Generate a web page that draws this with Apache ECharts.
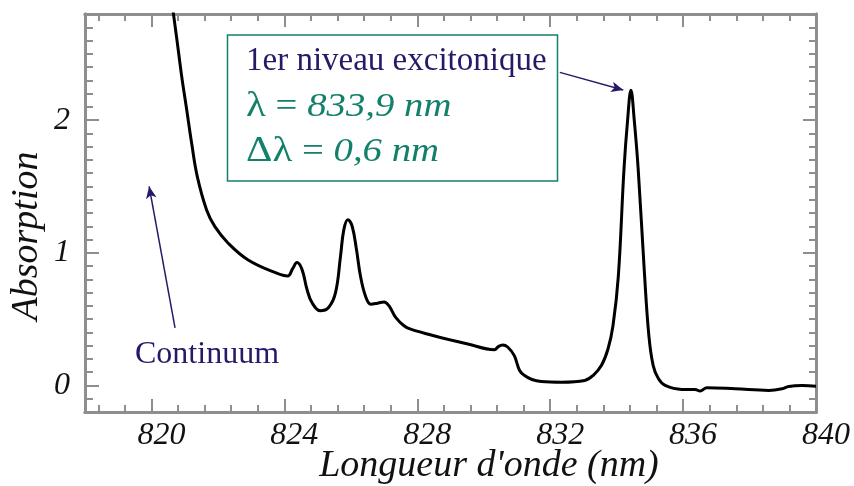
<!DOCTYPE html>
<html>
<head>
<meta charset="utf-8">
<script src="https://cdn.jsdelivr.net/npm/echarts@6/dist/echarts.min.js"></script>
<style>
  html, body { margin: 0; padding: 0; background: #fff; }
  #chart { width: 854px; height: 486px; }
</style>
</head>
<body>
<div id="chart"></div>
<script>
// spectrum
const wavelength = [
  820.6, 820.66, 820.78, 820.91, 821.06, 821.21, 821.38, 821.66, 821.91, 822.31,
  822.91, 823.77, 824.1, 824.25, 824.38, 824.53, 824.68, 824.83, 825.08, 825.33,
  825.54, 825.69, 825.79, 825.91, 826.04, 826.17, 826.29, 826.44, 826.6, 826.8,
  827.0, 827.15, 827.35, 827.6, 827.8, 828.5, 829.52, 830.32, 830.45, 830.57,
  830.72, 830.92, 831.08, 831.23, 831.45, 831.73, 832.34, 833.04, 833.29, 833.54,
  833.74, 833.89, 834.05, 834.22, 834.33, 834.43, 834.53, 834.65, 834.83, 834.97,
  835.1, 835.26, 835.46, 835.96, 836.36, 836.51, 836.72, 837.57, 838.58, 838.98,
  839.18, 839.59, 840.0
];
const absorption = [
  2.92, 2.805, 2.58, 2.33, 2.08, 1.825, 1.574, 1.323, 1.197, 1.072,
  0.946, 0.846, 0.825, 0.88, 0.926, 0.875, 0.725, 0.625, 0.563, 0.588,
  0.70, 0.975, 1.175, 1.25, 1.2, 1.025, 0.825, 0.675, 0.613, 0.62,
  0.63, 0.6, 0.513, 0.45, 0.425, 0.375, 0.313, 0.27, 0.295, 0.305,
  0.29, 0.225, 0.113, 0.075, 0.045, 0.03, 0.025, 0.038, 0.075, 0.15,
  0.275, 0.45, 0.82, 1.625, 2.0, 2.226, 2.0, 1.625, 0.875, 0.375,
  0.15, 0.05, 0.0, -0.03, -0.03, -0.042, -0.017, -0.025, -0.037, -0.025,
  -0.007, 0.0, -0.005
];

const xMajor = [820, 824, 828, 832, 836, 840];
const yMajor = [0, 1, 2];

// arrows: [from, to] in data units
const peakArrow = [[832.29, 2.36], [834.2, 2.227]];
const continuumArrow = [[820.71, 0.434], [819.93, 1.5]];

const xMinor = [];
for (let k = -2; k < 25; k++) {
  if (k % 5 !== 0) xMinor.push(+(820 + 0.8 * k).toFixed(2));
}
const yMinor = [];
for (let k = -1; k < 28; k++) {
  if (k % 10 !== 0) yMinor.push(+(k / 10).toFixed(2));
}

const gray = "#8e8e8e";
const navy = "#261a68";
const teal = "#12806a";
const serif = "Liberation Serif";

function xAx(pos, ticks, len, labels) {
  return {
    type: "value",
    position: pos,
    min: 818,
    max: 840,
    axisLine: { show: true, onZero: false, lineStyle: { color: gray, width: 3 } },
    axisTick: {
      show: true, inside: true, length: len, customValues: ticks,
      lineStyle: { color: gray, width: 2 },
    },
    axisLabel: labels
      ? {
          show: true, customValues: xMajor, margin: 8,
          color: "#111", fontFamily: serif, fontStyle: "italic", fontSize: 32,
          padding: [0, 0, 0, 20],
        }
      : { show: false },
    splitLine: { show: false },
  };
}

function yAx(pos, ticks, len, labels) {
  return {
    type: "value",
    position: pos,
    min: -0.2,
    max: 2.8,
    axisLine: { show: true, onZero: false, lineStyle: { color: gray, width: 3 } },
    axisTick: {
      show: true, inside: true, length: len, customValues: ticks,
      lineStyle: { color: gray, width: 2 },
    },
    axisLabel: labels
      ? {
          show: true, customValues: yMajor, margin: 15,
          color: "#111", fontFamily: serif, fontStyle: "italic", fontSize: 32,
        }
      : { show: false },
    splitLine: { show: false },
  };
}

const greek = { font: "36px 'Liberation Serif'", fill: teal };
const ital = { font: "italic 34px 'Liberation Serif'", fill: teal };
const upright = { font: "34px 'Liberation Serif'", fill: teal };

const chart = echarts.init(document.getElementById("chart"));

chart.setOption({
  animation: false,
  grid: { left: 85, right: 38, top: 14, bottom: 74 },
  xAxis: [
    xAx("bottom", xMajor, 13, true),
    xAx("bottom", xMinor, 7, false),
    xAx("top", xMajor, 13, false),
    xAx("top", xMinor, 7, false),
  ],
  yAxis: [
    yAx("left", yMajor, 14, true),
    yAx("left", yMinor, 8, false),
    yAx("right", yMajor, 13, false),
    yAx("right", yMinor, 7, false),
  ],
  graphic: [
    {
      type: "rect",
      shape: { x: 227.5, y: 35, width: 330, height: 146 },
      style: { fill: "#fff", stroke: teal, lineWidth: 1.5 },
      z: 10,
    },
    {
      type: "text", x: 246, y: 61, z: 11,
      style: {
        text: "1er niveau excitonique", fill: navy,
        font: "33px 'Liberation Serif'", verticalAlign: "middle",
      },
    },
    {
      type: "text", x: 246, y: 107, z: 11, scaleX: 1.14,
      style: {
        text: "{g|λ}{u| = }{i|833,9 nm}",
        rich: { g: greek, u: upright, i: ital },
        verticalAlign: "middle",
      },
    },
    {
      type: "text", x: 246, y: 152, z: 11, scaleX: 1.14,
      style: {
        text: "{g|Δλ}{u| = }{i|0,6 nm}",
        rich: { g: greek, u: upright, i: ital },
        verticalAlign: "middle",
      },
    },
    {
      type: "text", x: 135, y: 355, z: 11,
      style: {
        text: "Continuum", fill: navy,
        font: "32px 'Liberation Serif'", verticalAlign: "middle",
      },
    },
    {
      type: "text", x: 489, y: 466,
      style: {
        text: "Longueur d'onde (nm)", fill: "#111",
        font: "italic 38px 'Liberation Serif'",
        align: "center", verticalAlign: "middle",
      },
    },
    {
      type: "text", x: 27, y: 236, rotation: Math.PI / 2,
      style: {
        text: "Absorption", fill: "#111",
        font: "italic 38px 'Liberation Serif'",
        align: "center", verticalAlign: "middle",
      },
    },
  ],
  series: [
    {
      type: "line",
      xAxisIndex: 0,
      yAxisIndex: 0,
      data: wavelength.map((w, i) => [w, absorption[i]]),
      showSymbol: false,
      smooth: 0.4,
      clip: true,
      lineStyle: { color: "#000", width: 3 },
      markLine: {
        silent: true,
        symbol: ["none", "arrow"],
        symbolSize: [8, 12],
        label: { show: false },
        lineStyle: { color: navy, width: 1.5, type: "solid" },
        data: [
          [{ coord: peakArrow[0] }, { coord: peakArrow[1] }],
          [{ coord: continuumArrow[0] }, { coord: continuumArrow[1] }],
        ],
      },
    },
  ],
});

window.addEventListener("resize", () => chart.resize());
</script>
</body>
</html>
